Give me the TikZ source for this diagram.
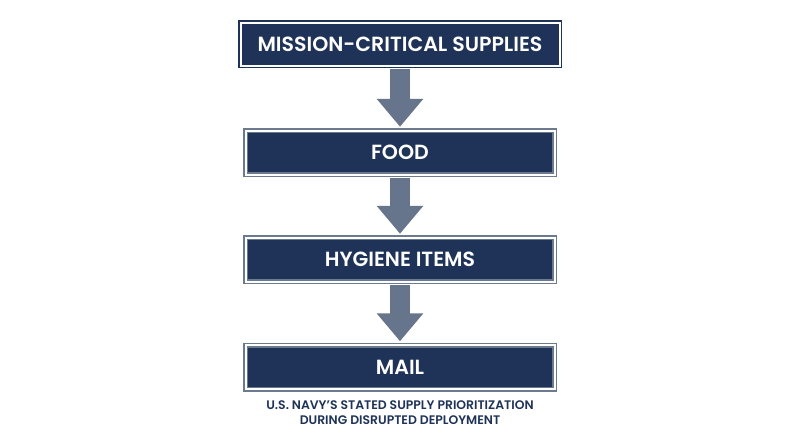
\documentclass[tikz,border=0pt]{standalone}
\usepackage{fontspec}
\setmainfont{Poppins}[BoldFont={Poppins SemiBold}]
\usetikzlibrary{arrows.meta}
\definecolor{navy}{HTML}{1F3358}
\definecolor{slate}{HTML}{6B7A8F}
\definecolor{arrowgray}{HTML}{66758B}

\begin{document}
\begin{tikzpicture}[x=1pt,y=-1pt]
\tikzstyle{level}=[rectangle, draw=slate, line width=1.5pt, double=white, double distance=2pt, fill=navy, text=white, font=\fontsize{20.5}{24}\selectfont\bfseries, minimum width=309pt, minimum height=44pt, inner sep=0pt]
\tikzstyle{toplevel}=[level, draw=navy, minimum width=319pt, minimum height=43pt]
\tikzstyle{flow}=[draw=arrowgray, line width=20pt, -{Triangle[width=45pt, length=28pt]}, shorten <=2.5pt, shorten >=3pt]

	\useasboundingbox[fill=white] (0,0) rectangle (800,447);
	%boxes
	\node[toplevel] (mission) at (400,44) {MISSION-CRITICAL SUPPLIES};
	\node[level] (food) at (400,152.5) {FOOD};
	\node[level] (hygiene) at (400,259.5) {HYGIENE ITEMS};
	\node[level] (mail) at (400,367) {MAIL};
	%arrows
	\draw[flow] (mission.south) -- (food.north);
	\draw[flow] (food.south) -- (hygiene.north);
	\draw[flow] (hygiene.south) -- (mail.north);
	%caption
	\node[text=navy, font=\fontsize{12.4}{15}\selectfont\bfseries, align=center] (caption) at (400,412.5) {U.S. NAVY'S STATED SUPPLY PRIORITIZATION\\DURING DISRUPTED DEPLOYMENT};

\end{tikzpicture}
\end{document}
